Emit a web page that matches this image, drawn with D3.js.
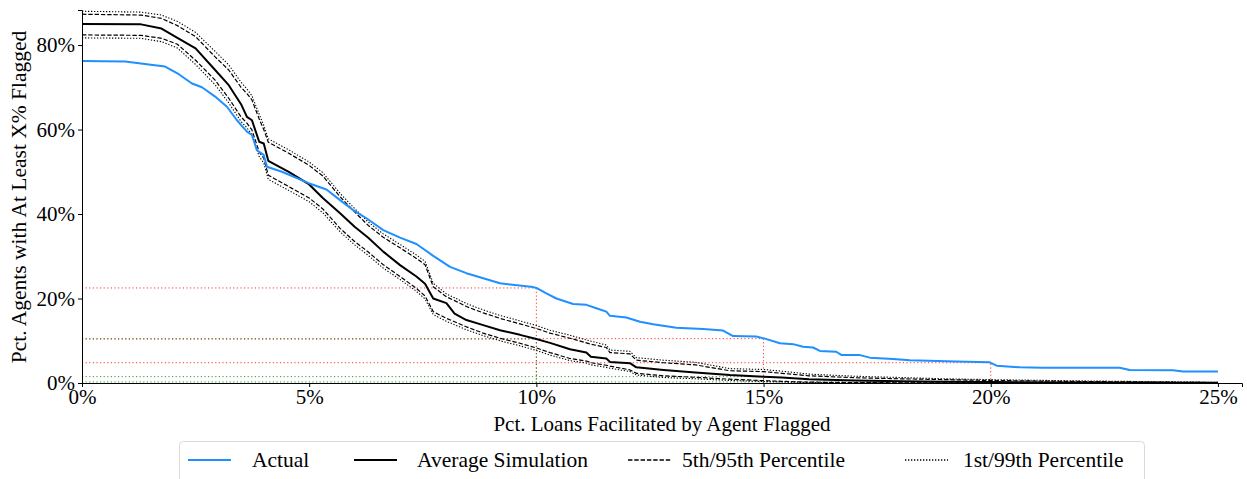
<!DOCTYPE html>
<html lang="en">

<head>
    <meta charset="utf-8">
    <style type="text/css">
        body { margin: 0; background: #fff; }
        text { font-family: "Liberation Serif", "DejaVu Serif", serif; fill: #000; }
        .axis path, .axis line { stroke: #000; }
    </style>
</head>

<body>
    <svg width="1247" height="479"></svg>
    <script src="https://d3js.org/d3.v7.min.js" type="text/javascript"></script>

    <script type="text/javascript">
        // actual curve: x = pct loans facilitated, y = pct agents
        var actualX = [0, 0.95, 1.47, 1.83, 2.13, 2.42, 2.64, 2.93, 3.19, 3.41, 3.63, 3.74, 3.85, 4.0, 4.07,
            4.4, 4.99, 5.38, 5.68, 5.97, 6.26, 6.63, 7.0, 7.36, 7.73, 8.1, 8.46, 8.83, 9.2, 9.93,
            10.0, 10.22, 10.44, 10.81, 11.1, 11.32, 11.54, 11.62, 11.98, 12.28, 12.57, 13.08, 13.67, 14.11, 14.33,
            14.84, 15.03, 15.36, 15.65, 15.87, 16.09, 16.24, 16.6, 16.72, 17.12, 17.34, 17.85, 18.22, 19.24, 19.98,
            20.13, 20.64, 21.15, 22.84, 23.06, 24.01, 24.23, 25.0];
        var actualY = [76.2, 76.1, 75.4, 74.9, 73.1, 70.9, 70.0, 67.8, 65.4, 62.2, 59.5, 58.7, 55.1, 54.0, 51.2,
            50.0, 47.3, 45.8, 43.3, 40.9, 39.0, 36.2, 34.4, 32.9, 30.1, 27.5, 26.0, 24.8, 23.6, 22.7,
            22.5, 21.2, 20.0, 18.7, 18.5, 17.7, 16.9, 15.9, 15.5, 14.5, 13.9, 13.1, 12.8, 12.4, 11.1,
            11.0, 10.5, 9.4, 9.2, 8.6, 8.4, 7.6, 7.4, 6.6, 6.6, 6.0, 5.7, 5.4, 5.1, 4.9,
            4.1, 3.7, 3.6, 3.6, 3.1, 3.0, 2.7, 2.7];

        // simulation curves share one x grid
        var simX = [0, 1.3, 1.75, 2.1, 2.5, 2.93, 3.23, 3.5, 3.63, 3.74, 3.9, 4.0, 4.1, 4.55, 5.0,
            5.3, 5.68, 6.0, 6.3, 6.63, 7.0, 7.36, 7.55, 7.73, 8.02, 8.2, 8.46, 8.83, 9.2, 9.64,
            10.0, 10.3, 10.74, 11.1, 11.2, 11.54, 11.62, 12.06, 12.2, 12.8, 13.5, 14.26, 15.0, 15.4, 16.0,
            17.0, 18.0, 19.0, 20.0, 22.0, 25.0];
        var simAvg = [85.0, 84.9, 83.9, 81.7, 79.2, 74.1, 70.5, 66.0, 63.0, 62.2, 57.1, 56.7, 52.6, 50.0, 47.0,
            43.8, 40.2, 37.0, 34.4, 31.1, 27.9, 25.2, 23.5, 20.0, 18.9, 16.4, 14.9, 13.7, 12.5, 11.4,
            10.4, 9.5, 8.0, 7.2, 6.2, 5.8, 5.0, 4.7, 3.7, 3.1, 2.5, 1.9, 1.5, 1.3, 0.9,
            0.6, 0.4, 0.3, 0.22, 0.1, 0.05];
        var simP95 = [87.3, 87.1, 86.3, 84.6, 82.0, 77.2, 74.1, 70.0, 68.5, 67.0, 62.5, 60.0, 57.0, 54.4, 51.5,
            49.0, 44.1, 40.5, 37.3, 34.5, 32.0, 29.5, 28.0, 22.8, 20.4, 19.5, 18.1, 16.6, 15.3, 14.0,
            12.9, 11.8, 10.6, 9.5, 9.2, 8.4, 7.2, 6.9, 5.4, 4.8, 4.3, 2.9, 2.7, 2.3, 1.7,
            1.25, 1.0, 0.8, 0.6, 0.35, 0.1];
        var simP5 = [82.4, 82.3, 81.6, 80.2, 76.4, 71.7, 67.4, 63.0, 61.5, 59.9, 54.7, 53.2, 49.2, 46.5, 43.8,
            41.2, 36.6, 33.5, 31.0, 28.0, 25.2, 22.4, 20.6, 16.9, 15.3, 14.5, 13.3, 11.8, 10.6, 9.4,
            8.3, 7.2, 5.8, 5.2, 4.8, 4.2, 4.0, 3.1, 2.3, 1.7, 1.35, 0.9, 0.55, 0.4, 0.2,
            0.1, 0.05, 0.02, 0.01, 0, 0];
        var simP99 = [88.0, 87.8, 87.1, 85.6, 83.0, 78.5, 75.3, 71.2, 69.6, 68.0, 63.6, 61.0, 57.8, 55.2, 52.3,
            49.8, 44.9, 41.3, 38.1, 35.3, 32.8, 30.3, 28.8, 23.6, 21.1, 20.2, 18.8, 17.3, 16.0, 14.7,
            13.6, 12.5, 11.3, 10.2, 9.9, 9.0, 7.8, 7.5, 6.0, 5.4, 4.9, 3.4, 3.2, 2.8, 2.1,
            1.6, 1.3, 1.0, 0.8, 0.5, 0.15];
        var simP1 = [81.7, 81.6, 80.8, 79.3, 75.4, 70.6, 66.3, 61.9, 60.4, 58.8, 53.6, 52.1, 48.2, 45.6, 42.9,
            40.3, 35.8, 32.7, 30.2, 27.2, 24.5, 21.7, 19.9, 16.2, 14.6, 13.8, 12.6, 11.2, 10.0, 8.8,
            7.7, 6.6, 5.3, 4.7, 4.3, 3.7, 3.5, 2.7, 1.9, 1.3, 1.0, 0.6, 0.35, 0.25, 0.1,
            0.05, 0, 0, 0, 0, 0];

        // cutoffs marked with dotted guides
        var cutoffs = [10, 15, 20];
        var actualAtCutoff = [22.5, 10.5, 4.8];
        var avgAtCutoff = [10.4, 1.5, 0.25];

        var xTicks = [0, 5, 10, 15, 20, 25];
        var yTicks = [0, 20, 40, 60, 80];

        var legendLabels = ["Actual", "Average Simulation", "5th/95th Percentile", "1st/99th Percentile"];

        var svg = d3.select("svg");

        var x = d3.scaleLinear().domain([0, 25.53]).range([82, 1242]);
        var y = d3.scaleLinear().domain([0, 88.3]).range([383, 10]);

        function zip(xs, ys) {
            return xs.map(function (v, i) { return [v, ys[i]]; });
        }

        var line = d3.line()
            .x(function (d) { return x(d[0]); })
            .y(function (d) { return y(d[1]); });

        // guide lines
        var guides = svg.append("g");
        function addGuides(vals, color) {
            cutoffs.forEach(function (c, i) {
                var segs = [[[0, vals[i]], [c, vals[i]]], [[c, 0], [c, vals[i]]]];
                segs.forEach(function (s) {
                    guides.append("path")
                        .attr("d", line(s))
                        .attr("fill", "none")
                        .attr("stroke", color)
                        .attr("stroke-opacity", 0.8)
                        .attr("stroke-width", 1)
                        .attr("stroke-dasharray", "1.2,2.4");
                });
            });
        }
        addGuides(actualAtCutoff, "red");
        addGuides(avgAtCutoff, "green");

        var dotted = "1.3,1.7", dashed = "4.4,1.9";
        var series = [
            { data: zip(simX, simP99), color: "#000", width: 1.1, dash: dotted },
            { data: zip(simX, simP1), color: "#000", width: 1.1, dash: dotted },
            { data: zip(simX, simP95), color: "#000", width: 1.2, dash: dashed },
            { data: zip(simX, simP5), color: "#000", width: 1.2, dash: dashed },
            { data: zip(simX, simAvg), color: "#000", width: 2, dash: null },
            { data: zip(actualX, actualY), color: "#1e90ff", width: 2, dash: null }
        ];

        svg.append("g").selectAll("path")
            .data(series)
            .enter()
            .append("path")
            .attr("d", function (d) { return line(d.data); })
            .attr("fill", "none")
            .attr("stroke", function (d) { return d.color; })
            .attr("stroke-width", function (d) { return d.width; })
            .attr("stroke-dasharray", function (d) { return d.dash; })
            .attr("stroke-linejoin", "round");

        // axes
        var xAxis = svg.append("g")
            .attr("class", "axis")
            .attr("transform", "translate(0,383)")
            .call(d3.axisBottom(x).tickValues(xTicks).tickSizeOuter(0).tickSize(4)
                .tickFormat(function (d) { return d + "%"; }));
        var yAxis = svg.append("g")
            .attr("class", "axis")
            .attr("transform", "translate(82,0)")
            .call(d3.axisLeft(y).tickValues(yTicks).tickSizeOuter(0).tickSize(4)
                .tickFormat(function (d) { return d + "%"; }));

        svg.selectAll(".axis text")
            .style("font-family", "'Liberation Serif', serif")
            .style("font-size", "21px");
        xAxis.selectAll("text").attr("dy", "0.68em");
        yAxis.selectAll("text").attr("x", -7);

        svg.append("text")
            .attr("x", 662)
            .attr("y", 431)
            .attr("text-anchor", "middle")
            .style("font-size", "21px")
            .text("Pct. Loans Facilitated by Agent Flagged");

        svg.append("text")
            .attr("transform", "translate(26,197) rotate(-90)")
            .attr("text-anchor", "middle")
            .style("font-size", "21.5px")
            .text("Pct. Agents with At Least X% Flagged");

        // legend
        var legend = svg.append("g");
        legend.append("rect")
            .attr("x", 179.5)
            .attr("y", 441.5)
            .attr("width", 965)
            .attr("height", 46)
            .attr("rx", 4)
            .attr("fill", "#fff")
            .attr("stroke", "#d9d9d9");

        var legendItems = [
            { x: 188, tx: 252, color: "#1e90ff", width: 2, dash: null },
            { x: 354, tx: 417, color: "#000", width: 2, dash: null },
            { x: 628, tx: 682, color: "#000", width: 1.5, dash: dashed },
            { x: 905, tx: 963, color: "#000", width: 1.3, dash: dotted }
        ];

        legendItems.forEach(function (d, i) {
            legend.append("line")
                .attr("x1", d.x)
                .attr("x2", d.x + 43)
                .attr("y1", 460)
                .attr("y2", 460)
                .attr("stroke", d.color)
                .attr("stroke-width", d.width)
                .attr("stroke-dasharray", d.dash);
            legend.append("text")
                .attr("x", d.tx)
                .attr("y", 467)
                .style("font-size", "21.5px")
                .text(legendLabels[i]);
        });
    </script>

</body>

</html>
